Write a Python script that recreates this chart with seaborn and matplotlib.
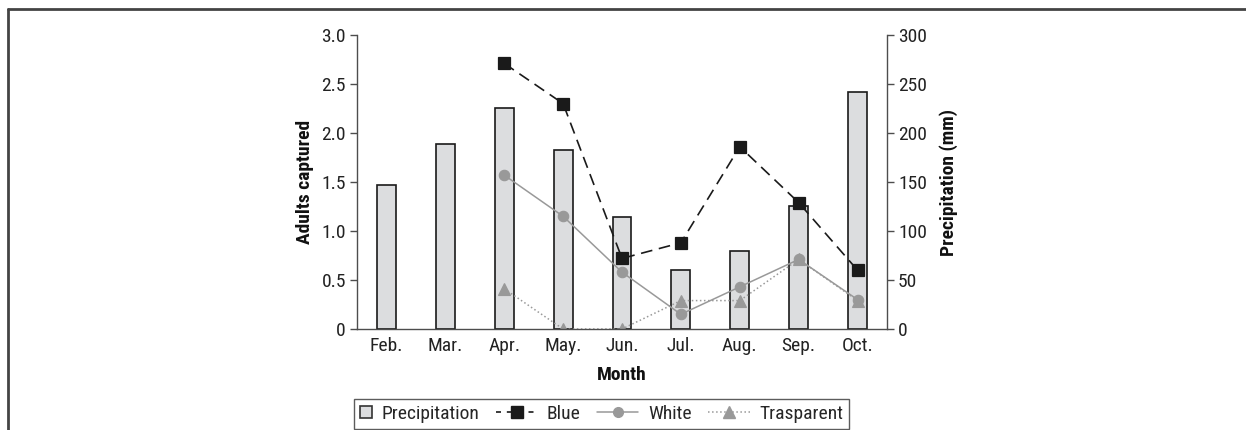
import numpy as np
import pandas as pd
import matplotlib
matplotlib.use("Agg")
import matplotlib.pyplot as plt
import seaborn as sns
from matplotlib.lines import Line2D
from matplotlib.patches import Rectangle, Patch
from matplotlib.legend_handler import HandlerBase
from matplotlib import font_manager

months = ["Feb.", "Mar.", "Apr.", "May.", "Jun.", "Jul.", "Aug.", "Sep.", "Oct."]
precipitation = [147, 189, 226, 183, 114, 60, 80, 126, 242]
blue = [np.nan, np.nan, 2.71, 2.30, 0.72, 0.88, 1.86, 1.29, 0.60]
white = [np.nan, np.nan, 1.57, 1.15, 0.58, 0.15, 0.43, 0.71, 0.30]
trasparent = [np.nan, np.nan, 0.41, 0.0, 0.0, 0.29, 0.29, 0.71, 0.29]
left_ticks = [0, 0.5, 1.0, 1.5, 2.0, 2.5, 3.0]
left_labels = ["0", "0.5", "1.0", "1.5", "2.0", "2.5", "3.0"]
right_ticks = [0, 50, 100, 150, 200, 250, 300]
legend_labels = ["Precipitation", "Blue", "White", "Trasparent"]

sns.set_theme(style="white")
available = {f.name for f in font_manager.fontManager.ttflist}
candidates = ["Liberation Sans Narrow", "Roboto Condensed", "Open Sans Condensed",
              "DejaVu Sans Condensed", "Arial Narrow", "Roboto", "Liberation Sans"]
chosen = [c for c in candidates if c in available]
plt.rcParams["font.family"] = chosen[:1] + ["DejaVu Sans"]

axis_col = "#4d4d4d"
bar_fill = "#dcdddf"
gray = "#999999"
dark = "#1a1a1a"

fig = plt.figure(figsize=(12.46, 4.30), dpi=100)
ax = fig.add_axes([357/1246, 1-329/430, (887-357)/1246, (329-35)/430])
ax2 = ax.twinx()

df = pd.DataFrame({"Month": months, "Precipitation": precipitation,
                   "Blue": blue, "White": white, "Trasparent": trasparent})

sns.barplot(data=df, x="Month", y="Precipitation", order=months, ax=ax2,
            color=bar_fill, width=0.32, edgecolor=dark, linewidth=1.2,
            saturation=1)

sns.pointplot(data=df, x="Month", y="Trasparent", order=months, ax=ax,
              color=gray, marker="^", linestyle=":", linewidth=1.1,
              markersize=8, errorbar=None)
sns.pointplot(data=df, x="Month", y="White", order=months, ax=ax,
              color=gray, marker="o", linestyle="-", linewidth=1.1,
              markersize=7.5, errorbar=None)
sns.pointplot(data=df, x="Month", y="Blue", order=months, ax=ax,
              color=dark, marker="s", linestyle=(0, (7, 4)), linewidth=1.2,
              markersize=8.5, errorbar=None)

ax.set_zorder(ax2.get_zorder() + 1)
ax.patch.set_visible(False)

ax.set_xlim(-0.5, len(months) - 0.5)
ax2.set_xlim(-0.5, len(months) - 0.5)
ax.set_ylim(0, 3.0)
ax2.set_ylim(0, 300)
ax.set_yticks(left_ticks)
ax.set_yticklabels(left_labels)
ax2.set_yticks(right_ticks)
ax2.set_yticklabels([str(t) for t in right_ticks])

ax.set_xticks(range(len(months)))
ax.set_xticklabels(months)
ax.set_xticks(np.arange(-0.5, len(months)), minor=True)
ax.tick_params(axis="x", which="major", length=0, labelsize=14, pad=6, colors="#222222")
ax.tick_params(axis="x", which="minor", length=5, width=1, color=axis_col, direction="out")
ax.tick_params(axis="y", length=5, width=1, color=axis_col, labelsize=14, labelcolor="#222222", left=True, direction="out", pad=3)
ax2.tick_params(axis="y", length=5, width=1, color=axis_col, labelsize=14, labelcolor="#222222", right=True, direction="out", pad=3)
ax2.tick_params(axis="x", length=0)
ax2.set_xlabel("")

for a in (ax, ax2):
    a.spines["top"].set_visible(False)
    for s in ("left", "right", "bottom"):
        a.spines[s].set_color(axis_col)
        a.spines[s].set_linewidth(1)
ax.spines["right"].set_visible(False)
ax2.spines["left"].set_visible(False)
ax2.spines["bottom"].set_visible(False)

ax.set_xlabel("Month", fontsize=14, fontweight="bold", color="#111111", labelpad=8)
ax.set_ylabel("Adults captured", fontsize=14, fontweight="bold", color="#111111", labelpad=5)
ax2.set_ylabel("Precipitation (mm)", fontsize=14, fontweight="bold", color="#111111", labelpad=9)


class SquareHandler(HandlerBase):
    def create_artists(self, legend, orig_handle, xdescent, ydescent, width, height, fontsize, trans):
        s = 0.62 * fontsize
        r = Rectangle((-xdescent, -ydescent + (height - s) / 2), s, s,
                      facecolor=bar_fill, edgecolor="#333333", linewidth=1.2, transform=trans)
        return [r]


class WideLineHandler(HandlerBase):
    def __init__(self, extra, **style):
        super().__init__()
        self.extra = extra
        self.style = style

    def create_artists(self, legend, orig_handle, xdescent, ydescent, width, height, fontsize, trans):
        st = self.style
        y = -ydescent + height / 2
        x0 = -xdescent - self.extra * fontsize
        x1 = -xdescent + width
        ln = Line2D([x0, x1], [y, y], color=st["color"], linestyle=st["ls"],
                    linewidth=st["lw"], transform=trans)
        mk = Line2D([(x0 + x1) / 2], [y], color=st["color"], marker=st["marker"],
                    markersize=st["ms"], linestyle="none", transform=trans)
        return [ln, mk]


h_prec = Patch()
h_blue = Line2D([], [])
h_white = Line2D([], [])
h_tr = Line2D([], [])
handler_map = {
    h_prec: SquareHandler(),
    h_blue: WideLineHandler(1.5, color=dark, ls=(0, (3, 3.5)), lw=1.2, marker="s", ms=8.5),
    h_white: WideLineHandler(1.5, color=gray, ls="-", lw=1.1, marker="o", ms=7),
    h_tr: WideLineHandler(1.5, color=gray, ls=":", lw=1.1, marker="^", ms=8),
}
leg = fig.legend([h_prec, h_blue, h_white, h_tr], legend_labels, handler_map=handler_map,
                 loc="center", bbox_to_anchor=(601.5/1246, 1-414/430),
                 ncol=4, fontsize=14, frameon=True, fancybox=False, handlelength=0.62,
                 handletextpad=0.5, columnspacing=2.35, borderpad=0.3, borderaxespad=0)
leg.get_frame().set_edgecolor("#333333")
leg.get_frame().set_linewidth(1)

fig.add_artist(Line2D([8/1246, 1], [1-9/430, 1-9/430], color="#444444", linewidth=2, transform=fig.transFigure))
fig.add_artist(Line2D([8/1246, 8/1246], [0, 1-9/430], color="#444444", linewidth=2, transform=fig.transFigure))

fig.savefig("out.png", dpi=100)
